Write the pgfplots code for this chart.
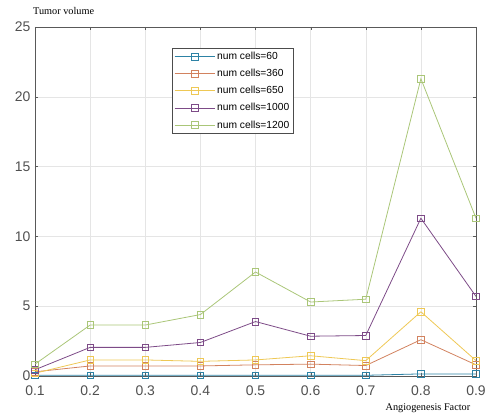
\documentclass[border=0pt]{standalone}
\usepackage{pgfplots}
\pgfplotsset{compat=1.18}
\usepackage{fontspec}
\setmainfont{Liberation Sans}
\newfontfamily\seriffont{Liberation Serif}
\definecolor{c1}{RGB}{45,130,165}
\definecolor{c2}{RGB}{210,130,95}
\definecolor{c3}{RGB}{238,200,85}
\definecolor{c4}{RGB}{125,75,135}
\definecolor{c5}{RGB}{170,198,120}
\definecolor{tickc}{RGB}{80,80,80}
\begin{document}
\begin{tikzpicture}
\useasboundingbox (-35bp,-42bp) rectangle (453bp,376bp);
\begin{axis}[
  scale only axis, width=441bp, height=349bp,
  xmin=0.1, xmax=0.9, ymin=0, ymax=25,
  xtick={0.1,0.2,0.3,0.4,0.5,0.6,0.7,0.8,0.9},
  ytick={0,5,10,15,20,25},
  xticklabels={0.1,0.2,0.3,0.4,0.5,0.6,0.7,0.8,0.9},
  yticklabels={0,5,10,15,20,25},
  tick align=inside, tick pos=both,
  major tick length=3bp,
  grid=major, grid style={gray!20, line width=0.5pt},
  axis line style={gray!70!black, line width=0.6pt},
  tick style={gray!70!black},
  ticklabel style={font=\fontsize{14}{15}\selectfont, text=tickc},
  xticklabel style={yshift=-6bp},
  yticklabel style={xshift=-1bp},
  title={Tumor volume},
  title style={at={(rel axis cs:0,1)}, anchor=south west, yshift=6bp, xshift=-2bp, inner sep=0pt, font=\seriffont\fontsize{10.3}{11}\selectfont},
  xlabel={Angiogenesis Factor},
  xlabel style={at={(rel axis cs:0.891,0)}, anchor=north, yshift=-28bp, inner sep=0pt, font=\seriffont\fontsize{10.3}{11}\selectfont},
  legend style={at={(0.311,0.94)}, anchor=north west, font=\fontsize{10.3}{12}\selectfont, draw=gray!60!black, inner sep=2pt, row sep=4.2bp},
  legend cell align=left,
  legend image code/.code={\draw[mark repeat=2,mark phase=2] plot coordinates {(0bp,0bp) (20bp,0bp) (40bp,0bp)};},
  every axis plot/.append style={line width=0.8pt, mark=square, mark size=3.3pt, mark options={solid, line width=0.6pt}},
]
\addplot[c1] coordinates {(0.1,0.05) (0.2,0.05) (0.3,0.05) (0.4,0.05) (0.5,0.05) (0.6,0.05) (0.7,0.05) (0.8,0.15) (0.9,0.15)};
\addlegendentry{num cells=60}
\addplot[c2] coordinates {(0.1,0.3) (0.2,0.72) (0.3,0.72) (0.4,0.72) (0.5,0.8) (0.6,0.85) (0.7,0.75) (0.8,2.6) (0.9,0.8)};
\addlegendentry{num cells=360}
\addplot[c3] coordinates {(0.1,0.2) (0.2,1.15) (0.3,1.15) (0.4,1.05) (0.5,1.15) (0.6,1.45) (0.7,1.1) (0.8,4.6) (0.9,1.1)};
\addlegendentry{num cells=650}
\addplot[c4] coordinates {(0.1,0.45) (0.2,2.05) (0.3,2.05) (0.4,2.4) (0.5,3.9) (0.6,2.85) (0.7,2.9) (0.8,11.3) (0.9,5.7)};
\addlegendentry{num cells=1000}
\addplot[c5] coordinates {(0.1,0.85) (0.2,3.65) (0.3,3.65) (0.4,4.4) (0.5,7.45) (0.6,5.3) (0.7,5.5) (0.8,21.3) (0.9,11.3)};
\addlegendentry{num cells=1200}
\end{axis}
\end{tikzpicture}
\end{document}
